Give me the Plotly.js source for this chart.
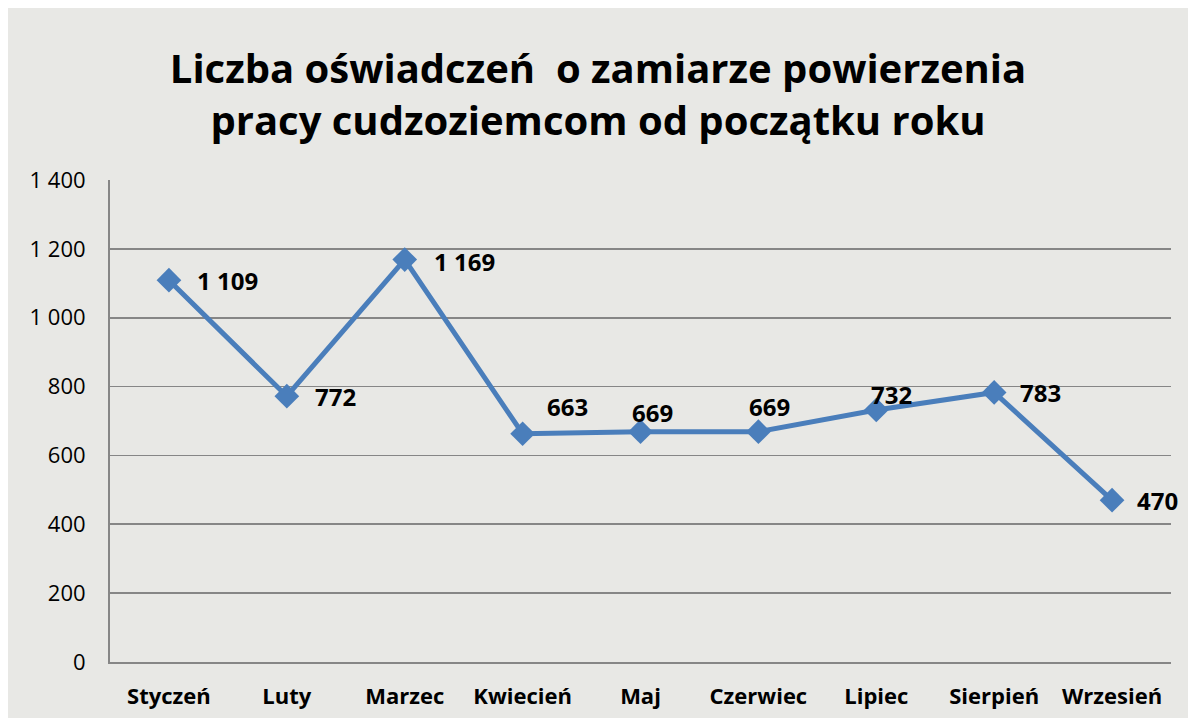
<!DOCTYPE html>
<html>
<head>
<meta charset="utf-8">
<script src="https://cdn.plot.ly/plotly-3.0.1.min.js"></script>
<style>
html,body{margin:0;padding:0;background:#ffffff;}
#chart{position:absolute;left:8px;top:8px;width:1180px;height:710px;}
</style>
</head>
<body>
<div id="chart"></div>
<script>
const months = ["Styczeń","Luty","Marzec","Kwiecień","Maj","Czerwiec","Lipiec","Sierpień","Wrzesień"];
const counts = [1109, 772, 1169, 663, 669, 669, 732, 783, 470];
const yTicks = [0, 200, 400, 600, 800, 1000, 1200, 1400];

// label offsets (pixels) relative to each point: [xshift, yshift]
const labelShiftX = [26, 26, 27, 22, -11, -11, -7, 24, 23];
const labelShiftY = [0, 0, -2, 27, 19, 25, 15, 0, 0];

const FONT = "Open Sans, Liberation Sans, sans-serif";

const trace = {
  x: months,
  y: counts,
  type: "scatter",
  mode: "lines+markers",
  line: {color: "#4a7ebb", width: 5},
  marker: {symbol: "diamond", size: 19, color: "#4a7ebb"},
  cliponaxis: false,
  hoverinfo: "skip"
};

const fmt = v => String(v).replace(/\B(?=(\d{3})+(?!\d))/g, " ");

const annotations = months.map((m, i) => ({
  x: m, y: counts[i], xref: "x", yref: "y",
  text: "<b>" + fmt(counts[i]) + "</b>",
  showarrow: false,
  xanchor: "left", yanchor: "middle",
  xshift: labelShiftX[i], yshift: labelShiftY[i],
  font: {family: FONT, size: 24, color: "#000000"}
}));

const layout = {
  width: 1180,
  height: 710,
  separators: ", ",
  paper_bgcolor: "#e8e8e5",
  plot_bgcolor: "rgba(0,0,0,0)",
  margin: {l: 102, r: 17, t: 172, b: 56},
  showlegend: false,
  annotations: annotations,
  title: {
    text: "<b>Liczba oświadczeń  o zamiarze powierzenia<br>pracy cudzoziemcom od początku roku</b>",
    font: {family: FONT, size: 40, color: "#000000"},
    x: 0.5, xanchor: "center",
    yref: "container",
    y: 0.895, yanchor: "middle"
  },
  xaxis: {
    type: "category",
    range: [-0.5, 8.5],
    showgrid: false,
    showline: true,
    linecolor: "#868686",
    linewidth: 2,
    ticks: "",
    tickfont: {family: FONT, size: 22, color: "#000000", weight: "bold"},
    ticklabelstandoff: 14
  },
  yaxis: {
    range: [0, 1400],
    tickvals: yTicks,
    tickformat: ",",
    showgrid: true,
    gridcolor: "#868686",
    gridwidth: 1.6,
    zeroline: false,
    showline: true,
    linecolor: "#868686",
    linewidth: 2,
    ticks: "",
    tickfont: {family: FONT, size: 22, color: "#000000"},
    ticklabelstandoff: 18
  }
};

Plotly.newPlot("chart", [trace], layout, {displayModeBar: false, staticPlot: true});
</script>
</body>
</html>
